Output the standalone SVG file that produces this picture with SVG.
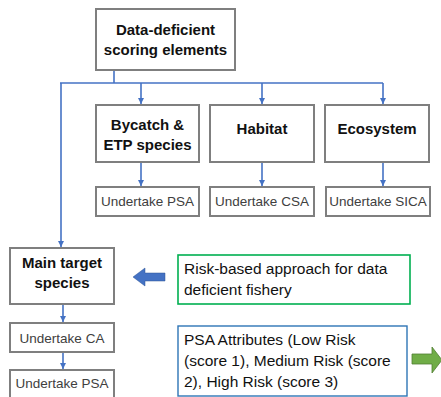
<svg xmlns="http://www.w3.org/2000/svg" width="441" height="397" viewBox="0 0 441 397">
<style>
.box{fill:#fff;stroke:#7f7f7f;stroke-width:2}
.hd{font-family:"Liberation Sans",Arial,sans-serif;font-size:15px;font-weight:bold;fill:#111;text-anchor:middle}
.sm{font-family:"Liberation Sans",Arial,sans-serif;font-size:13.5px;fill:#404040;text-anchor:middle}
.tx{font-family:"Liberation Sans",Arial,sans-serif;font-size:15.5px;fill:#111}
.ln{fill:none;stroke:#4472C4;stroke-width:1.6}
</style>
<defs>
<marker id="ah" viewBox="0 0 10 10" refX="10" refY="5" markerWidth="4" markerHeight="4" orient="auto" markerUnits="strokeWidth">
<path d="M0,0 L10,5 L0,10 Z" fill="#4472C4"/>
</marker>
</defs>
<rect width="441" height="397" fill="#fff"/>
<g id="connectors">
<path class="ln" d="M114,70 V83"/>
<path class="ln" d="M60,83 H383"/>
<path class="ln" d="M61,83 V247" marker-end="url(#ah)"/>
<path class="ln" d="M141,83 V104" marker-end="url(#ah)"/>
<path class="ln" d="M262,83 V104" marker-end="url(#ah)"/>
<path class="ln" d="M383,83 V104" marker-end="url(#ah)"/>
<path class="ln" d="M141,162 V186" marker-end="url(#ah)"/>
<path class="ln" d="M262,162 V186" marker-end="url(#ah)"/>
<path class="ln" d="M383,162 V186" marker-end="url(#ah)"/>
<path class="ln" d="M63,304 V322" marker-end="url(#ah)"/>
<path class="ln" d="M63,352 V369" marker-end="url(#ah)"/>
</g>
<g id="n-top">
<rect class="box" x="96" y="9" width="139" height="61"/>
<text class="hd" x="165.5" y="35">Data-deficient</text>
<text class="hd" x="165.5" y="55">scoring elements</text>
</g>
<g id="n-bycatch">
<rect class="box" x="96" y="105" width="103" height="57"/>
<text class="hd" x="147.5" y="130">Bycatch &amp;</text>
<text class="hd" x="147.5" y="150">ETP species</text>
</g>
<g id="n-habitat">
<rect class="box" x="210" y="105" width="104" height="57"/>
<text class="hd" x="262" y="134">Habitat</text>
</g>
<g id="n-ecosystem">
<rect class="box" x="325" y="105" width="104" height="57"/>
<text class="hd" x="377" y="134">Ecosystem</text>
</g>
<g id="n-psa1">
<rect class="box" x="96" y="187" width="103" height="29"/>
<text class="sm" x="147.5" y="206">Undertake PSA</text>
</g>
<g id="n-csa">
<rect class="box" x="210" y="187" width="104" height="29"/>
<text class="sm" x="262" y="206">Undertake CSA</text>
</g>
<g id="n-sica">
<rect class="box" x="326" y="187" width="104" height="29"/>
<text class="sm" x="378" y="206">Undertake SICA</text>
</g>
<g id="n-main">
<rect class="box" x="10" y="248" width="104" height="56"/>
<text class="hd" x="62" y="268">Main target</text>
<text class="hd" x="62" y="288">species</text>
</g>
<g id="n-ca">
<rect class="box" x="10" y="323" width="104" height="29"/>
<text class="sm" x="62" y="343">Undertake CA</text>
</g>
<g id="n-psa2">
<rect class="box" x="10" y="370" width="104" height="30"/>
<text class="sm" x="62" y="388">Undertake PSA</text>
</g>
<g id="n-risk">
<rect x="178" y="255" width="232" height="49" fill="#fff" stroke="#00B050" stroke-width="1.6"/>
<text class="tx" x="184" y="274">Risk-based approach for data</text>
<text class="tx" x="184" y="295">deficient fishery</text>
</g>
<g id="n-attr">
<rect x="178" y="326" width="229" height="70" fill="#fff" stroke="#2E75B6" stroke-width="1.4"/>
<text class="tx" x="184" y="345">PSA Attributes (Low Risk</text>
<text class="tx" x="184" y="366">(score 1), Medium Risk (score</text>
<text class="tx" x="184" y="387">2), High Risk (score 3)</text>
</g>
<g id="blue-arrow">
<path d="M133,277 L145,268 L145,273 L165,273 L165,281 L145,281 L145,286 Z" fill="#4472C4" stroke="#2F5597" stroke-width="0.5"/>
</g>
<g id="green-arrow">
<path d="M412,354 L432,354 L432,347 L442,360 L432,373 L432,364 L412,364 Z" fill="#70AD47" stroke="#507E32" stroke-width="0.8"/>
</g>
</svg>
